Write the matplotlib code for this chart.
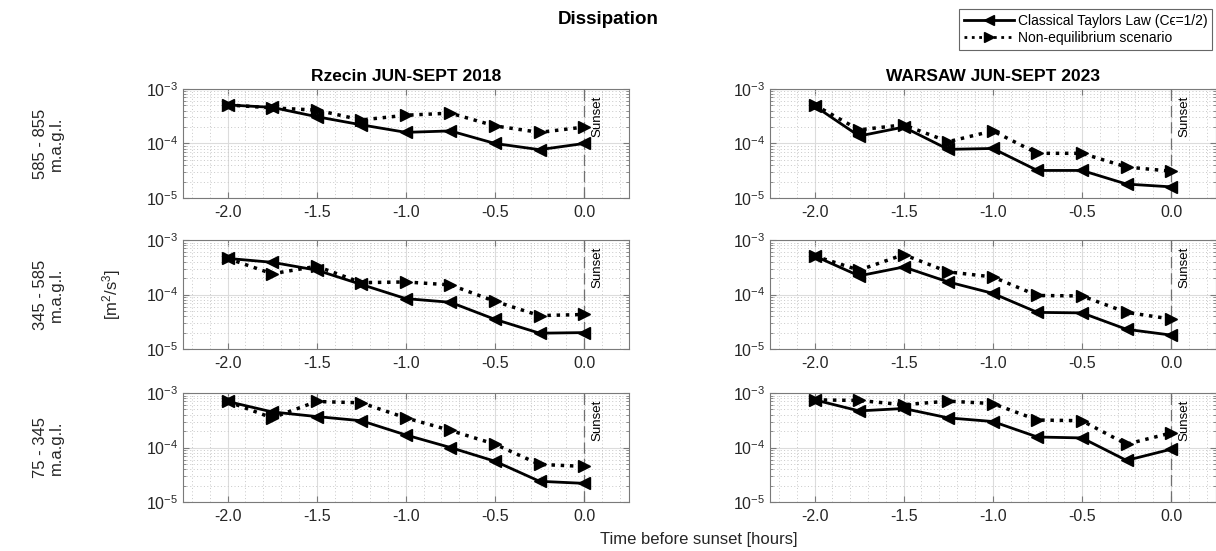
import numpy as np
import matplotlib
matplotlib.use("Agg")
from matplotlib import pyplot as plt
from matplotlib.lines import Line2D
from matplotlib.ticker import LogLocator, MultipleLocator, FormatStrFormatter, NullFormatter

plt.rcParams['font.family'] = ['Liberation Sans', 'DejaVu Sans']
plt.rcParams['mathtext.fontset'] = 'custom'
plt.rcParams['mathtext.rm'] = 'Liberation Sans'
plt.rcParams['mathtext.it'] = 'Liberation Sans:italic'
plt.rcParams['mathtext.bf'] = 'Liberation Sans:bold'
plt.rcParams['axes.unicode_minus'] = False

# hours before sunset
time = [-2.0, -1.75, -1.5, -1.25, -1.0, -0.75, -0.5, -0.25, 0.0]

# Rzecin, classical Taylor law vs non-equilibrium
rz_top_cl = [5.1e-4, 4.6e-4, 3.1e-4, 2.2e-4, 1.6e-4, 1.7e-4, 1.0e-4, 7.7e-5, 1.0e-4]
rz_top_ne = [5.1e-4, 4.5e-4, 4.1e-4, 2.7e-4, 3.3e-4, 3.6e-4, 2.1e-4, 1.6e-4, 2.0e-4]
rz_mid_cl = [4.6e-4, 3.9e-4, 2.8e-4, 1.53e-4, 8.4e-5, 7.2e-5, 3.5e-5, 1.95e-5, 2.0e-5]
rz_mid_ne = [4.6e-4, 2.4e-4, 3.3e-4, 1.65e-4, 1.7e-4, 1.5e-4, 7.5e-5, 4.1e-5, 4.3e-5]
rz_bot_cl = [7.0e-4, 4.5e-4, 3.7e-4, 3.1e-4, 1.7e-4, 1.0e-4, 5.6e-5, 2.4e-5, 2.2e-5]
rz_bot_ne = [7.0e-4, 3.5e-4, 7.0e-4, 6.6e-4, 3.5e-4, 2.06e-4, 1.15e-4, 4.9e-5, 4.5e-5]

# Warsaw
wa_top_cl = [4.9e-4, 1.37e-4, 2.0e-4, 7.8e-5, 8.1e-5, 3.2e-5, 3.2e-5, 1.8e-5, 1.6e-5]
wa_top_ne = [5.1e-4, 1.78e-4, 2.2e-4, 1.08e-4, 1.7e-4, 6.6e-5, 6.6e-5, 3.7e-5, 3.1e-5]
wa_mid_cl = [5.1e-4, 2.2e-4, 3.2e-4, 1.7e-4, 1.05e-4, 4.7e-5, 4.6e-5, 2.3e-5, 1.8e-5]
wa_mid_ne = [5.1e-4, 2.8e-4, 5.4e-4, 2.6e-4, 2.1e-4, 9.6e-5, 9.4e-5, 4.7e-5, 3.55e-5]
wa_bot_cl = [7.5e-4, 4.7e-4, 5.2e-4, 3.5e-4, 3.0e-4, 1.56e-4, 1.5e-4, 5.8e-5, 9.3e-5]
wa_bot_ne = [7.5e-4, 7.3e-4, 6.1e-4, 7.1e-4, 6.4e-4, 3.2e-4, 3.1e-4, 1.15e-4, 1.85e-4]

heights = ["585 - 855\nm.a.g.l.", "345 - 585\nm.a.g.l.", "75 - 345\nm.a.g.l."]
sites = ["Rzecin JUN-SEPT 2018", "WARSAW JUN-SEPT 2023"]

classical = [[rz_top_cl, wa_top_cl], [rz_mid_cl, wa_mid_cl], [rz_bot_cl, wa_bot_cl]]
noneq = [[rz_top_ne, wa_top_ne], [rz_mid_ne, wa_mid_ne], [rz_bot_ne, wa_bot_ne]]

fig = plt.figure(figsize=(12.16, 5.51), dpi=100)

lefts = [0.1505, 0.6332]
bottoms = [0.6407, 0.3666, 0.0889]
w, h = 0.3665, 0.1978
frame = "#7a7a7a"
txt = "#262626"

for r in range(3):
    for c in range(2):
        ax = fig.add_axes([lefts[c], bottoms[r], w, h])
        ax.set_yscale("log")
        ax.set_xlim(-2.25, 0.25)
        ax.set_ylim(1e-5, 1e-3)

        ax.plot(time, classical[r][c], "-", color="k", lw=2, marker="<", ms=8, zorder=4)
        ax.plot(time, noneq[r][c], ":", color="k", lw=2.5, marker=">", ms=8, zorder=4)

        # sunset marker
        ax.axvline(0, color="#707070", lw=0.9, ls=(0, (9, 4)), zorder=3)
        ax.text(0.04, 0.94, "Sunset", rotation=90, ha="left", va="top", fontsize=9.5,
                color="k", transform=ax.get_xaxis_transform())

        ax.xaxis.set_major_locator(MultipleLocator(0.5))
        ax.xaxis.set_minor_locator(MultipleLocator(0.1))
        ax.xaxis.set_major_formatter(FormatStrFormatter("%.1f"))
        ax.yaxis.set_major_locator(LogLocator(base=10, numticks=5))
        ax.yaxis.set_minor_locator(LogLocator(base=10, subs=np.arange(2, 10), numticks=20))
        ax.yaxis.set_minor_formatter(NullFormatter())

        ax.grid(which="major", color="#dcdcdc", lw=0.8, ls="-")
        ax.grid(which="minor", color="#c8c8c8", lw=0.7, ls=(0, (1, 2.5)))
        ax.set_axisbelow(True)

        ax.tick_params(which="both", direction="in", top=True, right=True, colors=frame,
                       labelcolor=txt, labelsize=11.5)
        ax.tick_params(which="major", length=4)
        ax.tick_params(which="minor", length=2)
        ax.tick_params(axis="x", which="minor", length=0)
        ax.tick_params(axis="x", pad=5)
        for s in ax.spines.values():
            s.set_color(frame)
            s.set_linewidth(0.8)

        if r == 0:
            ax.set_title(sites[c], fontsize=12.5, fontweight="bold", pad=6)

# row labels
row_mid = [b + h / 2 for b in bottoms]
for r in range(3):
    fig.text(0.040, row_mid[r], heights[r], rotation=90, ha="center", va="center",
             fontsize=12, color=txt, linespacing=1.1)
fig.text(0.092, row_mid[1], r"[m$^2$/s$^3$]", rotation=90, ha="center", va="center",
         fontsize=12, color=txt)

fig.text(0.575, 0.008, "Time before sunset [hours]", ha="center", va="bottom", fontsize=12, color=txt)
fig.text(0.5, 0.965, "Dissipation", ha="center", va="center", fontsize=13.5, fontweight="bold")

handles = [Line2D([], [], color="k", lw=2, ls="-", marker="<", ms=7),
           Line2D([], [], color="k", lw=2, ls=":", marker=">", ms=7)]
leg = fig.legend(handles, ["Classical Taylors Law (C\u03f5=1/2)", "Non-equilibrium scenario"],
                 loc="upper right", bbox_to_anchor=(0.997, 0.983), fontsize=10,
                 frameon=True, fancybox=False, handlelength=3.6, handletextpad=0.3,
                 borderpad=0.35, labelspacing=0.2, borderaxespad=0)
leg.get_frame().set_edgecolor("#404040")
leg.get_frame().set_linewidth(0.8)

fig.savefig("out.png", dpi=100)
